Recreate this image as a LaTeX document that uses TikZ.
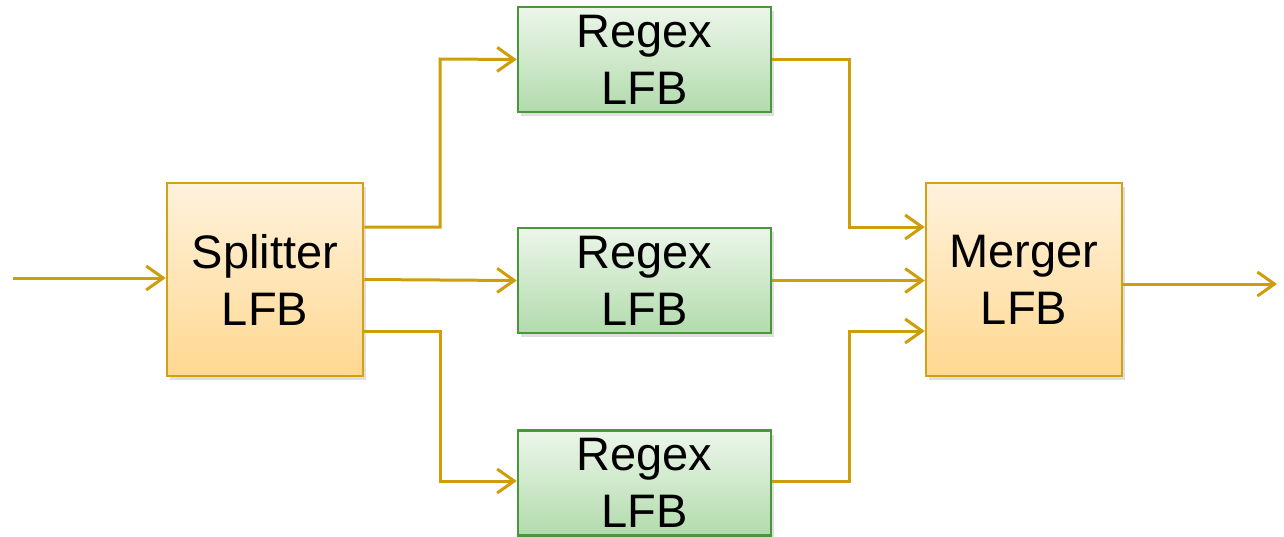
\documentclass[tikz,border=0pt]{standalone}
\usepackage{fontspec}
\setmainfont{Liberation Sans}
\usetikzlibrary{shadows,arrows.meta}
\definecolor{wire}{RGB}{206,158,10}
\definecolor{orangeedge}{RGB}{212,160,20}
\definecolor{orangetop}{RGB}{255,242,220}
\definecolor{orangebot}{RGB}{255,216,145}
\definecolor{greenedge}{RGB}{74,150,60}
\definecolor{greentop}{RGB}{236,246,234}
\definecolor{greenbot}{RGB}{178,219,172}
\tikzset{
  block/.style={draw, line width=2.5pt, inner sep=0pt, align=center,
    font=\fontsize{47}{57}\selectfont,
    drop shadow={shadow xshift=3pt, shadow yshift=-4pt, opacity=0.25}},
  orangebox/.style={block, draw=orangeedge, top color=orangetop, bottom color=orangebot,
    minimum width=196pt, minimum height=193pt},
  greenbox/.style={block, draw=greenedge, top color=greentop, bottom color=greenbot,
    minimum width=253pt, minimum height=105pt},
  flow/.style={draw=wire, line width=3pt,
    -{Straight Barb[length=17pt, width=24pt, line width=3pt]}}
}
\begin{document}
\begin{tikzpicture}[x=1pt, y=-1pt]
  \useasboundingbox (0,0) rectangle (1284,536);
  % blocks
  \node[orangebox] (split) at (265,279.5) {Splitter\\LFB};
  \node[greenbox] (r1) at (644.5,59.5) {Regex\\LFB};
  \node[greenbox] (r2) at (644.5,280.5) {Regex\\LFB};
  \node[greenbox] (r3) at (644.5,483) {Regex\\LFB};
  \node[orangebox] (merge) at (1024,279.5) {Merger\\LFB};
  % free ends
  \coordinate (in) at (13,278);
  \coordinate (out) at (1277,284);
  % input and output
  \draw[flow] (in) -- (split.west |- in);
  \draw[flow] (merge.east |- out) -- (out);
  % splitter to regex blocks
  \draw[flow] (split.east |- 0,227) -| (440,59) -- (r1.west);
  \draw[flow] (split.east) -- (r2.west);
  \draw[flow] (split.east |- 0,331) -| (440,481) -- (r3.west |- 0,481);
  % regex blocks to merger
  \draw[flow] (r1.east) -| (849,227) -- (merge.west |- 0,227);
  \draw[flow] (r2.east) -- (merge.west |- r2.east);
  \draw[flow] (r3.east |- 0,481) -| (849,331) -- (merge.west |- 0,331);
\end{tikzpicture}
\end{document}
